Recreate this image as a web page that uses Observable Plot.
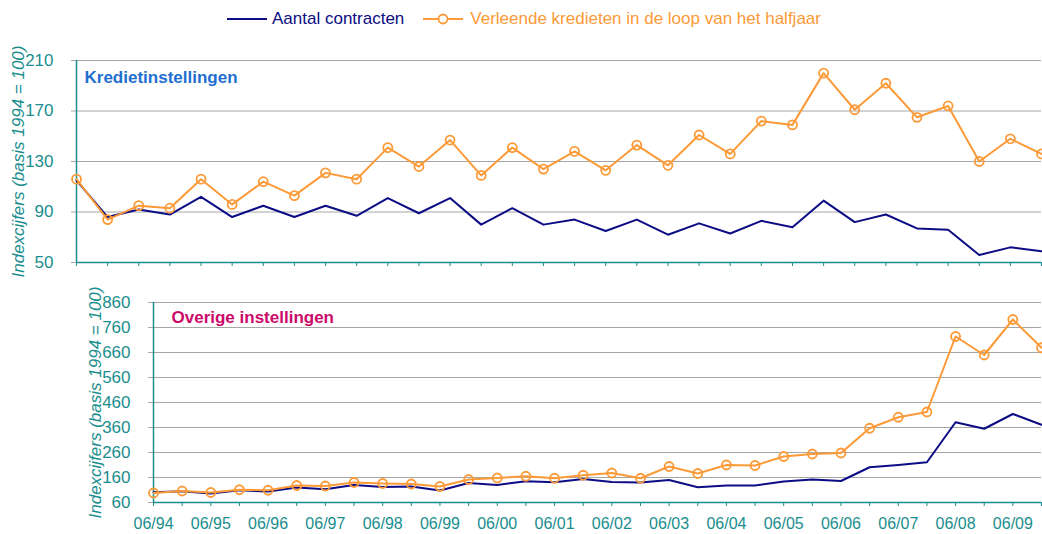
<!DOCTYPE html>
<html>
<head>
<meta charset="utf-8">
<script src="https://cdn.jsdelivr.net/npm/d3@7"></script>
<script src="https://cdn.jsdelivr.net/npm/@observablehq/plot@0.6"></script>
<style>
  html, body { margin: 0; padding: 0; background: #fff; }
  #wrap { position: relative; width: 1042px; height: 534px; font-family: "Liberation Sans", Arial, sans-serif; overflow: hidden; }
  #legend { position: absolute; left: 227px; top: 9px; display: flex; align-items: center; font-size: 17px; white-space: nowrap; }
  #legend .item { display: flex; align-items: center; }
  #legend svg { display: block; }
  #top, #bottom { position: absolute; left: 0; }
  #top { top: 40px; }
  #bottom { top: 282px; }
</style>
</head>
<body>
<div id="wrap">
  <div id="legend"></div>
  <div id="top"></div>
  <div id="bottom"></div>
</div>
<script>
// ---- Data ----
const periods = ["06/94","12/94","06/95","12/95","06/96","12/96","06/97","12/97",
  "06/98","12/98","06/99","12/99","06/00","12/00","06/01","12/01",
  "06/02","12/02","06/03","12/03","06/04","12/04","06/05","12/05",
  "06/06","12/06","06/07","12/07","06/08","12/08","06/09","12/09"];

const seriesNames = ["Aantal contracten", "Verleende kredieten in de loop van het halfjaar"];
const panelTitles = ["Kredietinstellingen", "Overige instellingen"];
const yLabel = "Indexcijfers (basis 1994 = 100)";

// Kredietinstellingen
const kredietContracten = [115, 86, 92, 88, 102, 86, 95, 86, 95, 87, 101, 89, 101, 80, 93, 80,
  84, 75, 84, 72, 81, 73, 83, 78, 99, 82, 88, 77, 76, 56, 62, 59];
const kredietVerleend = [116, 84, 95, 93, 116, 96, 114, 103, 121, 116, 141, 126, 147, 119, 141, 124,
  138, 123, 143, 127, 151, 136, 162, 159, 200, 171, 192, 165, 174, 130, 148, 136];

// Overige instellingen
const overigeContracten = [101, 105, 96, 109, 104, 120, 113, 130, 122, 124, 108, 138, 130, 145, 141, 154,
  142, 140, 150, 121, 128, 128, 144, 152, 146, 201, 210, 221, 381, 355, 414, 371];
const overigeVerleend = [98, 106, 100, 111, 109, 128, 126, 140, 136, 134, 124, 152, 158, 165, 157, 169,
  178, 157, 204, 176, 210, 208, 244, 254, 258, 357, 401, 422, 724, 650, 792, 679];

const topTicks = [50, 90, 130, 170, 210];
const bottomTicks = [60, 160, 260, 360, 460, 560, 660, 760, 860];

// ---- Styles ----
const font = '"Liberation Sans", Arial, sans-serif';
const teal = "#1a8e8e";
const navy = "#0c0c84";
const orange = "#fd9a38";
const grid = "#a6a6a6";

function toRows(values) { return periods.map((p, i) => ({period: p, value: values[i]})); }

// ---- Legend ----
const legend = document.getElementById("legend");
legend.innerHTML = `
  <div class="item" style="color:${navy}">
    <svg width="40" height="12"><line x1="0" x2="40" y1="6" y2="6" stroke="${navy}" stroke-width="2"/></svg>
    <span style="margin-left:5px">${seriesNames[0]}</span>
  </div>
  <div class="item" style="color:${orange}; margin-left:19px">
    <svg width="40" height="12"><line x1="0" x2="40" y1="6" y2="6" stroke="${orange}" stroke-width="2"/>
      <circle cx="20" cy="6" r="4.5" fill="#fff" stroke="${orange}" stroke-width="1.8"/></svg>
    <span style="margin-left:7px">${seriesNames[1]}</span>
  </div>`;

function panel({height, marginTop, marginBottom, marginLeft, yDomain, yTicks, blue, orangeVals, title, titleColor, titleDx, titleDy, showLabels}) {
  return Plot.plot({
    width: 1042,
    height,
    marginTop,
    marginBottom,
    marginLeft,
    marginRight: 1,
    style: {fontFamily: font, fontSize: "17px", color: teal, background: "transparent", overflow: "visible"},
    x: {type: "point", domain: periods, padding: 0, round: false},
    y: {domain: yDomain},
    marks: [
      Plot.ruleY(yTicks, {stroke: grid, strokeWidth: 1}),
      Plot.axisY({ticks: yTicks, tickSize: 5, tickPadding: 18, stroke: grid, fill: teal, fontSize: 17, label: null}),
      Plot.ruleY([yDomain[0]], {stroke: teal, strokeWidth: 1.5}),
      Plot.ruleX([periods[0]], {stroke: teal, strokeWidth: 1.5}),
      Plot.axisX({
        ticks: periods, tickSize: 4, tickPadding: 11, stroke: teal, fill: teal, fontSize: 16, label: null,
        tickFormat: showLabels ? (d) => (periods.indexOf(d) % 2 === 0 ? d : "") : () => ""
      }),
      Plot.line(toRows(blue), {x: "period", y: "value", stroke: navy, strokeWidth: 2}),
      Plot.line(toRows(orangeVals), {x: "period", y: "value", stroke: orange, strokeWidth: 2}),
      Plot.dot(toRows(orangeVals), {x: "period", y: "value", r: 4.5, stroke: orange, strokeWidth: 1.8, fill: "none"}),
      Plot.text([title], {frameAnchor: "top-left", dx: titleDx, dy: titleDy, textAnchor: "start", lineAnchor: "middle",
        fill: titleColor, fontWeight: "bold", fontSize: 17}),
      Plot.text([yLabel], {frameAnchor: "left", rotate: -90, dx: -58, textAnchor: "middle", lineAnchor: "middle",
        fill: teal, fontStyle: "italic", fontSize: 17})
    ]
  });
}

document.getElementById("top").appendChild(panel({
  height: 240, marginTop: 20, marginBottom: 18, marginLeft: 76,
  yDomain: [50, 210], yTicks: topTicks,
  blue: kredietContracten, orangeVals: kredietVerleend,
  title: panelTitles[0], titleColor: "#1e6fd0", titleDx: 8, titleDy: 17, showLabels: false
}));

document.getElementById("bottom").appendChild(panel({
  height: 252, marginTop: 20, marginBottom: 32, marginLeft: 153,
  yDomain: [60, 860], yTicks: bottomTicks,
  blue: overigeContracten, orangeVals: overigeVerleend,
  title: panelTitles[1], titleColor: "#cc0a6a", titleDx: 18, titleDy: 15, showLabels: true
}));
</script>
</body>
</html>
